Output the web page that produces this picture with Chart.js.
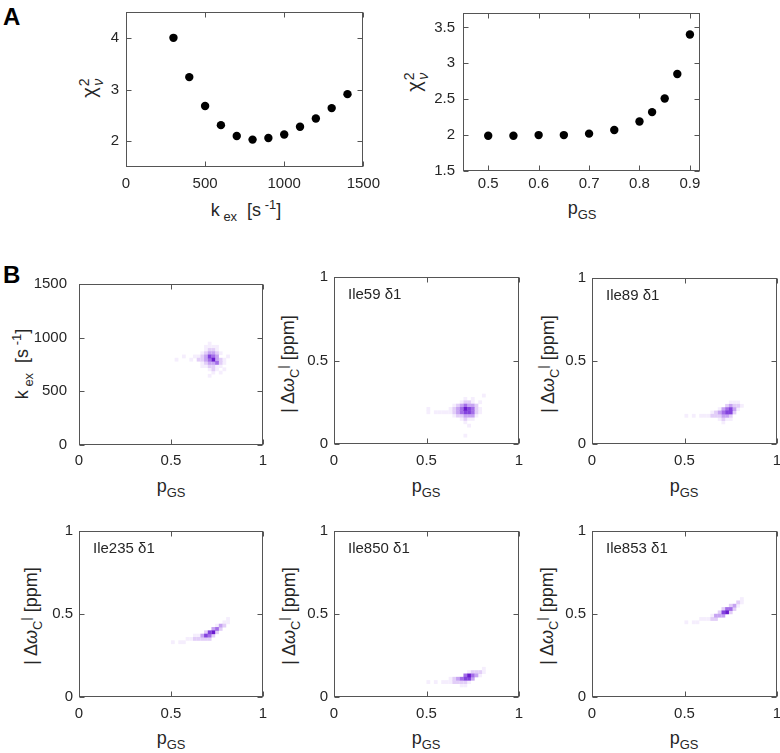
<!DOCTYPE html>
<html><head><meta charset="utf-8">
<script src="https://cdn.jsdelivr.net/npm/chart.js@4.4.1/dist/chart.umd.min.js"></script>
<style>
html,body{margin:0;padding:0;background:#fff;width:780px;height:753px;overflow:hidden;position:relative;font-family:"Liberation Sans",Arial,Helvetica,sans-serif;color:#262626}
canvas{position:absolute}
.t{position:absolute;white-space:nowrap;transform:translate(-50%,-50%);font-size:18px;line-height:1}
.r{transform:translate(-50%,-50%) rotate(-90deg)}
.lbl{position:absolute;font-size:15px;white-space:nowrap;transform:translateY(-50%);line-height:1}
.letter{position:absolute;font-weight:bold;font-size:24px;line-height:1;color:#000}
sub,sup{font-size:0.72em;line-height:0;position:relative;vertical-align:baseline}
sub{top:0.38em} sup{top:-0.55em}
.chi{font-size:20px}
.stack{display:inline-block;vertical-align:middle;line-height:1;font-size:14px;text-align:center;margin-left:1px}
.stack span{display:block}
</style></head><body>
<div class="letter" style="left:3px;top:5px">A</div>
<div class="letter" style="left:3px;top:263px">B</div>

<div class="t" style="left:246px;top:210px">k<sub> ex</sub>&nbsp; [s<sup> -1</sup>]</div>
<div class="t r chi" style="left:91px;top:88px">χ<span class="stack"><span>2</span><span style="font-style:italic">ν</span></span></div>
<div class="t" style="left:582px;top:208px">p<sub>GS</sub></div>
<div class="t r chi" style="left:416px;top:82px">χ<span class="stack"><span>2</span><span style="font-style:italic">ν</span></span></div>

<div class="t" style="left:171px;top:486px">p<sub>GS</sub></div>
<div class="t" style="left:426px;top:486px">p<sub>GS</sub></div>
<div class="t" style="left:684px;top:486px">p<sub>GS</sub></div>
<div class="t" style="left:171px;top:738px">p<sub>GS</sub></div>
<div class="t" style="left:426px;top:738px">p<sub>GS</sub></div>
<div class="t" style="left:684px;top:738px">p<sub>GS</sub></div>

<div class="t r" style="left:22px;top:364px">k<sub> ex</sub>&nbsp; [s<sup> -1</sup>]</div>
<div class="t r" style="left:288px;top:364px">| Δ<i>ω</i><sub>C</sub><sup>|</sup> [ppm]</div>
<div class="t r" style="left:548px;top:364px">| Δ<i>ω</i><sub>C</sub><sup>|</sup> [ppm]</div>
<div class="t r" style="left:31px;top:616px">| Δ<i>ω</i><sub>C</sub><sup>|</sup> [ppm]</div>
<div class="t r" style="left:289px;top:616px">| Δ<i>ω</i><sub>C</sub><sup>|</sup> [ppm]</div>
<div class="t r" style="left:547px;top:616px">| Δ<i>ω</i><sub>C</sub><sup>|</sup> [ppm]</div>

<script>
// ---------------- DATA ----------------
const kexGrid   = [300, 400, 500, 600, 700, 800, 900, 1000, 1100, 1200, 1300, 1400];
const chiVsKex  = [4.00, 3.24, 2.68, 2.31, 2.10, 2.03, 2.06, 2.13, 2.28, 2.44, 2.64, 2.91];
const pgsGrid   = [0.50, 0.55, 0.60, 0.65, 0.70, 0.75, 0.80, 0.825, 0.85, 0.875, 0.90];
const chiVsPgs  = [1.99, 1.99, 2.00, 2.00, 2.02, 2.07, 2.19, 2.32, 2.51, 2.85, 3.40];

const kexTicks    = [0, 500, 1000, 1500];
const chiKexTicks = [2, 3, 4];
const pgsTicksA   = [0.5, 0.6, 0.7, 0.8, 0.9];
const chiPgsTicks = [1.5, 2, 2.5, 3, 3.5];
const unitTicks   = [0, 0.5, 1];
const kexTicksB   = [0, 500, 1000, 1500];

const residueLabels = ['Ile59 δ1', 'Ile89 δ1', 'Ile235 δ1', 'Ile850 δ1', 'Ile853 δ1'];

// 2D histogram cells: [pGS bin centre, value bin centre, density level 1..6]
const histKex = [
 [0.71,825,5],[0.73,825,4],[0.71,795,4],[0.73,795,6],[0.69,825,3],[0.75,795,3],[0.71,855,3],[0.73,855,3],
 [0.69,795,3],[0.75,765,4],[0.73,765,3],[0.71,765,3],[0.69,855,2],[0.75,825,3],[0.77,795,2],[0.67,825,2],
 [0.67,795,2],[0.69,765,2],[0.71,735,2],[0.73,735,2],[0.75,735,1],[0.77,765,2],[0.71,885,2],[0.73,885,2],
 [0.69,885,1],[0.75,855,2],[0.75,885,1],[0.71,915,1],[0.73,915,1],[0.67,855,1],[0.65,825,1],[0.65,795,2],
 [0.63,825,1],[0.67,765,1],[0.69,735,1],[0.71,705,1],[0.73,705,2],[0.75,705,1],[0.77,735,1],[0.79,795,1],
 [0.79,765,1],[0.73,675,1],[0.77,675,1],[0.71,945,1],[0.69,915,1],[0.75,915,1],[0.61,795,1],[0.57,825,1],
 [0.53,795,1],[0.81,825,1],[0.77,855,1],[0.67,735,1],[0.79,705,1],[0.71,645,1]
];
const histIle59 = [
 [0.71,0.21,6],[0.73,0.21,5],[0.71,0.19,5],[0.73,0.19,5],[0.69,0.21,4],[0.69,0.19,4],[0.75,0.21,4],[0.75,0.19,4],
 [0.71,0.23,4],[0.73,0.23,3],[0.69,0.23,3],[0.75,0.23,3],[0.71,0.17,3],[0.73,0.17,3],[0.69,0.17,2],[0.75,0.17,3],
 [0.67,0.21,3],[0.67,0.19,3],[0.77,0.21,2],[0.77,0.19,2],[0.77,0.23,2],[0.71,0.25,2],[0.73,0.25,2],[0.75,0.25,1],
 [0.69,0.25,1],[0.65,0.21,2],[0.65,0.19,2],[0.63,0.19,1],[0.63,0.21,1],[0.61,0.19,1],[0.59,0.19,1],[0.57,0.19,1],
 [0.55,0.19,1],[0.51,0.19,1],[0.51,0.21,1],[0.67,0.23,2],[0.67,0.17,2],[0.79,0.21,1],[0.79,0.19,1],[0.77,0.17,1],
 [0.71,0.15,2],[0.73,0.15,1],[0.69,0.15,1],[0.71,0.27,1],[0.73,0.11,1],[0.71,0.05,1],[0.81,0.29,1],[0.75,0.27,1],
 [0.79,0.25,1],[0.65,0.23,1],[0.65,0.17,1],[0.75,0.15,1],[0.71,0.13,1]
];
const histIle89 = [
 [0.73,0.19,5],[0.75,0.19,5],[0.73,0.21,4],[0.75,0.21,5],[0.71,0.19,4],[0.77,0.21,3],[0.71,0.17,3],[0.73,0.17,3],
 [0.75,0.23,3],[0.77,0.23,2],[0.69,0.19,3],[0.69,0.17,2],[0.67,0.19,2],[0.67,0.17,2],[0.65,0.19,1],[0.65,0.17,2],
 [0.63,0.17,1],[0.61,0.17,1],[0.59,0.17,1],[0.55,0.17,1],[0.51,0.17,1],[0.79,0.23,2],[0.79,0.21,1],[0.77,0.19,2],
 [0.71,0.21,3],[0.73,0.23,2],[0.77,0.25,1],[0.75,0.25,1],[0.71,0.15,2],[0.73,0.15,1],[0.75,0.17,2],[0.69,0.21,1],
 [0.71,0.13,1],[0.79,0.25,1],[0.81,0.23,1],[0.69,0.15,1],[0.75,0.15,1]
];
const histIle235 = [
 [0.51,0.33,1],[0.55,0.33,1],[0.57,0.33,1],[0.59,0.35,1],[0.61,0.35,1],[0.63,0.35,2],[0.65,0.35,2],[0.65,0.37,1],
 [0.67,0.37,3],[0.67,0.35,2],[0.69,0.37,5],[0.69,0.39,2],[0.71,0.37,4],[0.71,0.39,5],[0.73,0.39,6],[0.73,0.41,3],
 [0.75,0.41,4],[0.75,0.39,2],[0.77,0.41,2],[0.77,0.43,3],[0.79,0.43,2],[0.79,0.45,1],[0.81,0.45,1],[0.81,0.47,1],
 [0.63,0.37,1],[0.71,0.35,2],[0.73,0.37,2],[0.75,0.43,1],[0.69,0.35,2]
];
const histIle850 = [
 [0.51,0.09,1],[0.55,0.09,1],[0.59,0.09,1],[0.61,0.09,1],[0.63,0.09,1],[0.63,0.11,1],[0.65,0.09,2],[0.65,0.11,2],
 [0.67,0.11,3],[0.67,0.09,2],[0.69,0.11,4],[0.69,0.09,2],[0.71,0.11,5],[0.71,0.13,4],[0.73,0.13,6],[0.73,0.11,5],
 [0.75,0.13,4],[0.75,0.11,3],[0.77,0.13,3],[0.77,0.15,2],[0.79,0.15,2],[0.79,0.13,1],[0.81,0.15,1],[0.81,0.17,1],
 [0.71,0.09,2],[0.73,0.09,1],[0.69,0.07,1],[0.71,0.07,1],[0.75,0.15,2],[0.73,0.15,1]
];
const histIle853 = [
 [0.51,0.45,1],[0.55,0.45,1],[0.57,0.45,1],[0.59,0.47,1],[0.61,0.47,1],[0.63,0.47,1],[0.65,0.47,2],[0.65,0.49,1],
 [0.67,0.49,3],[0.67,0.47,2],[0.69,0.49,3],[0.69,0.51,2],[0.71,0.51,5],[0.71,0.49,3],[0.73,0.51,6],[0.73,0.53,4],
 [0.75,0.53,4],[0.75,0.55,2],[0.77,0.55,3],[0.77,0.53,2],[0.79,0.57,2],[0.79,0.55,1],[0.81,0.59,1],[0.81,0.57,1],
 [0.71,0.53,2],[0.75,0.51,2]
];
const binPgs = 0.02, binKex = 30, binDw = 0.02;

// ---------------- STYLE ----------------
const levelColors = [null,'#f5eefd','#e2cef8','#c6a3f2','#a36de8','#8443de','#6a1bcf'];
const FONT = '"Liberation Sans", Arial, Helvetica, sans-serif';
const AXIS = '#555555', TXT = '#262626';

const boxPlugin = {
  id: 'box',
  afterDatasetsDraw(chart) {
    const {ctx, chartArea: a, scales: {x, y}} = chart;
    const L = Math.round(a.left) + 0.5, R = Math.round(a.right) - 0.5;
    const T = Math.round(a.top) + 0.5, B = Math.round(a.bottom) - 0.5;
    ctx.save();
    ctx.strokeStyle = AXIS; ctx.lineWidth = 1;
    ctx.strokeRect(L, T, R - L, B - T);
    const tl = 5;
    ctx.beginPath();
    x.ticks.forEach(t => { const px = Math.round(x.getPixelForValue(t.value)) + 0.5;
      ctx.moveTo(px, B); ctx.lineTo(px, B - tl); ctx.moveTo(px, T); ctx.lineTo(px, T + tl); });
    y.ticks.forEach(t => { const py = Math.round(y.getPixelForValue(t.value)) + 0.5;
      ctx.moveTo(L, py); ctx.lineTo(L + tl, py); ctx.moveTo(R, py); ctx.lineTo(R - tl, py); });
    ctx.stroke();
    ctx.restore();
  }
};

function build(p, datasets) {
  const [L, T, R, B] = p.box; const mL = 60, mR = 22, mT = 10, mB = 32;
  const c = document.createElement('canvas');
  c.width = R - L + mL + mR; c.height = B - T + mT + mB;
  c.style.left = (L - mL) + 'px'; c.style.top = (T - mT) + 'px';
  document.body.appendChild(c);
  const tickFont = {family: FONT, size: 15};
  new Chart(c, {
    type: 'scatter',
    data: {datasets},
    options: {
      responsive: false, animation: false, devicePixelRatio: 1, events: [],
      layout: {padding: {left: 0, top: mT, right: mR, bottom: 0}},
      plugins: {legend: {display: false}, tooltip: {enabled: false}},
      scales: {
        x: {type: 'linear', min: p.xr[0], max: p.xr[1],
            grid: {display: false, drawTicks: false}, border: {display: false},
            afterFit(s) { s.height = mB; },
            afterBuildTicks(s) { s.ticks = p.xt.map(v => ({value: v})); },
            ticks: {padding: p.xpad, color: TXT, font: tickFont, maxRotation: 0, autoSkip: false, callback: v => String(v)}},
        y: {type: 'linear', min: p.yr[0], max: p.yr[1],
            grid: {display: false, drawTicks: false}, border: {display: false},
            afterFit(s) { s.width = mL; },
            afterBuildTicks(s) { s.ticks = p.yt.map(v => ({value: v})); },
            ticks: {padding: p.ypad, color: TXT, font: tickFont, autoSkip: false, callback: v => String(v)}}
      }
    },
    plugins: [boxPlugin]
  });
}

function pointDataset(xs, ys) {
  return {data: xs.map((x, i) => ({x, y: ys[i]})), backgroundColor: '#000', borderWidth: 0,
          pointRadius: 4.2, pointHoverRadius: 4.2};
}
function heatDataset(cells, bx, by) {
  const sorted = cells.slice().sort((a, b) => a[2] - b[2]);
  const rad = ctx => {
    const sx = ctx.chart.scales.x, sy = ctx.chart.scales.y;
    const w = Math.abs(sx.getPixelForValue(bx) - sx.getPixelForValue(0));
    const h = Math.abs(sy.getPixelForValue(by) - sy.getPixelForValue(0));
    return Math.max(w, h) / Math.SQRT2 * 1.03;
  };
  return {data: sorted.map(c => ({x: c[0], y: c[1], v: c[2]})), pointStyle: 'rect', borderWidth: 0,
          backgroundColor: ctx => levelColors[(ctx.raw && ctx.raw.v) || 1],
          pointRadius: rad, pointHoverRadius: rad};
}

// Panel A
build({box: [126, 6, 366, 167], xr: [0, 1500], yr: [1.5, 4.5], xt: kexTicks, yt: chiKexTicks, xpad: 8, ypad: 7},
      [pointDataset(kexGrid, chiVsKex)]);
build({box: [463, 6, 700, 171], xr: [0.45, 0.92], yr: [1.5, 3.7], xt: pgsTicksA, yt: chiPgsTicks, xpad: 4, ypad: 8},
      [pointDataset(pgsGrid, chiVsPgs)]);

// Panel B
build({box: [79, 273, 263, 445], xr: [0, 1], yr: [0, 1500], xt: unitTicks, yt: kexTicksB, xpad: 7, ypad: 12},
      [heatDataset(histKex, binPgs, binKex)]);
const bPanels = [
  {box: [334, 272, 519, 444], cells: histIle59},
  {box: [592, 273, 777, 444], cells: histIle89},
  {box: [79, 526, 263, 697], cells: histIle235},
  {box: [334, 526, 519, 697], cells: histIle850},
  {box: [592, 526, 777, 697], cells: histIle853}
];
bPanels.forEach((bp, i) => {
  build({box: bp.box, xr: [0, 1], yr: [0, 1], xt: unitTicks, yt: unitTicks, xpad: 8, ypad: 6},
        [heatDataset(bp.cells, binPgs, binDw)]);
  const d = document.createElement('div');
  d.className = 'lbl';
  d.textContent = residueLabels[i];
  d.style.left = (bp.box[0] + 14) + 'px';
  d.style.top = (bp.box[1] + 21) + 'px';
  document.body.appendChild(d);
});
</script>
</body></html>
